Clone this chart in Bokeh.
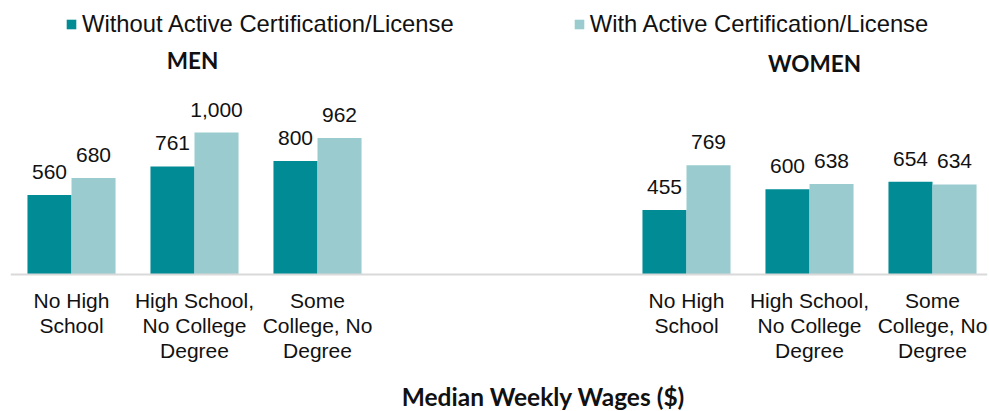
from bokeh.plotting import figure
from bokeh.models import (ColumnDataSource, Range1d, FixedTicker, Legend, LegendItem,
                          LabelSet, Label)
from bokeh.core.properties import value
from bokeh.embed import file_html
from bokeh.resources import INLINE

# ---- data ----
groups = ["MEN", "WOMEN"]
categories = ["No High School", "High School, No College Degree", "Some College, No Degree"]
tick_labels = ["No High\nSchool", "High School,\nNo College\nDegree", "Some\nCollege, No\nDegree"]
series_names = ["Without Active Certification/License", "With Active Certification/License"]
men_without = [560, 761, 800]
men_with = [680, 1000, 962]
women_without = [455, 600, 654]
women_with = [769, 638, 634]
axis_title = "Median Weekly Wages ($)"

# ---- styling ----
DARK = "#008B95"
LIGHT = "#9ACBCF"
STRIDE = 5          # 3 categories + 2 empty slots between groups
BAR_W = 0.358
PX_PER_UNIT = 0.142
W, H = 989, 411
BASE_PX = 274       # pixel row of the value axis (y = 0)
SLOT0_PX = 71
SLOT_PX = 123
LEFT = 10
RIGHT = 987

without_vals = men_without + women_without
with_vals = men_with + women_with
slots = [g * STRIDE + c for g in range(len(groups)) for c in range(len(categories))]

src_wo = ColumnDataSource(dict(x=[s - BAR_W / 2 for s in slots], top=without_vals,
                               lab=[f"{v:,}" for v in without_vals]))
src_w = ColumnDataSource(dict(x=[s + BAR_W / 2 for s in slots], top=with_vals,
                              lab=[f"{v:,}" for v in with_vals]))

x0 = (LEFT - SLOT0_PX) / SLOT_PX
x1 = (RIGHT - SLOT0_PX) / SLOT_PX
y0 = -(H - BASE_PX) / PX_PER_UNIT
y1 = BASE_PX / PX_PER_UNIT
p = figure(width=W, height=H, output_backend="svg", toolbar_location=None,
           x_range=Range1d(x0, x1), y_range=Range1d(y0, y1),
           min_border_left=LEFT, min_border_right=W - RIGHT, min_border_top=0,
           min_border_bottom=0)
p.outline_line_color = None
p.grid.visible = False
p.yaxis.visible = False
p.background_fill_color = "white"
p.border_fill_color = "white"

r1 = p.vbar(x="x", top="top", bottom=0, width=BAR_W, source=src_wo, fill_color=DARK,
            line_color=None)
r2 = p.vbar(x="x", top="top", bottom=0, width=BAR_W, source=src_w, fill_color=LIGHT,
            line_color=None)

ax = p.xaxis[0]
ax.fixed_location = 0
ax.ticker = FixedTicker(ticks=slots)
ax.major_label_overrides = {s: tick_labels[i % len(categories)] for i, s in enumerate(slots)}
ax.axis_line_color = "#D9D9D9"
ax.axis_line_width = 2
ax.major_tick_line_color = None
ax.minor_tick_line_color = None
ax.major_tick_out = 0
ax.major_label_standoff = 14
ax.major_label_text_font = "Liberation Sans"
ax.major_label_text_font_size = "21px"
ax.major_label_text_line_height = 1.09
ax.major_label_text_color = "#111111"

for src in (src_wo, src_w):
    p.add_layout(LabelSet(x="x", y="top", text="lab", source=src, text_align="center",
                          text_baseline="alphabetic", y_offset=16,
                          text_font=value("Liberation Sans"), text_font_size=value("21px"),
                          text_color="#111111"))

# group headings: pixel rows of their baselines (Label draws ~10 px low, compensated)
group_px = [60, 63]
group_dx = [-2, 5]
for g, name in enumerate(groups):
    p.add_layout(Label(x=g * STRIDE + 1, y=(BASE_PX - group_px[g]) / PX_PER_UNIT,
                       x_offset=group_dx[g], text=name,
                       text_align="center", text_baseline="alphabetic",
                       text_font="Lato", text_font_style="bold", text_font_size="22.5px",
                       text_color="#111111"))

# axis title, centred under the chart
p.add_layout(Label(x=(543 - SLOT0_PX) / SLOT_PX, y=-(396 - BASE_PX) / PX_PER_UNIT,
                   text=axis_title, text_align="center", text_baseline="alphabetic",
                   text_font="Lato", text_font_style="bold", text_font_size="24.5px",
                   text_color="#111111"))

legend = Legend(items=[LegendItem(label=series_names[0], renderers=[r1]),
                       LegendItem(label=series_names[1], renderers=[r2])],
                orientation="horizontal", location=(55, H - 38), spacing=119,
                padding=0, margin=0, glyph_width=12, glyph_height=12, label_standoff=5,
                label_text_font="Liberation Sans", label_text_font_size="23.8px",
                label_text_color="#111111", border_line_color=None,
                background_fill_alpha=0)
p.add_layout(legend)

open("out.html", "w").write(file_html(p, INLINE))
